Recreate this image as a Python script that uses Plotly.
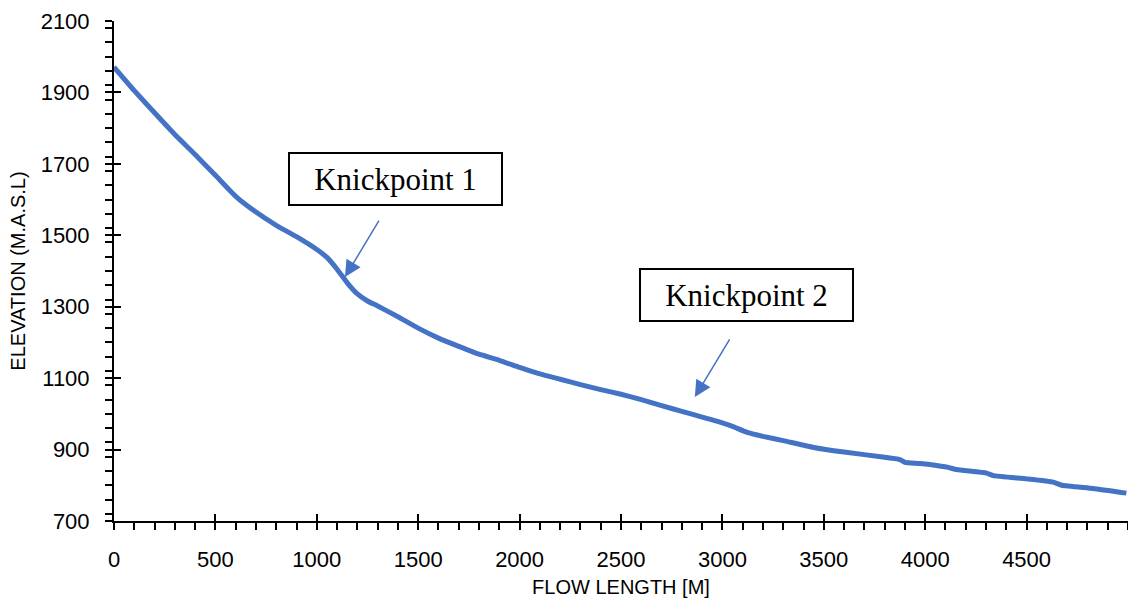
import plotly.graph_objects as go

# Longitudinal river profile: flow length (m) vs elevation (m a.s.l.)
flow_length = [0, 100, 200, 300, 400, 500, 600, 700, 800, 900, 1000, 1050,
               1100, 1150, 1200, 1250, 1300, 1400, 1500, 1600, 1700, 1800,
               1900, 2000, 2100, 2200, 2300, 2400, 2500, 2600, 2700, 2800,
               2900, 2988, 3050, 3119, 3200, 3300, 3450, 3600, 3780, 3875,
               3900, 3974, 4105, 4155, 4303, 4336, 4500, 4631, 4673, 4828,
               4992]
elevation = [1971, 1905, 1843, 1782, 1726, 1668, 1609, 1565, 1528, 1496, 1460,
             1438, 1405, 1367, 1336, 1316, 1302, 1272, 1240, 1212, 1189, 1167,
             1150, 1130, 1112, 1097, 1082, 1068, 1055, 1040, 1023, 1007,
             991, 977, 965, 949, 937, 925, 906, 893, 880, 872,
             864, 861, 851, 844, 834, 827, 818, 809, 800, 791,
             778]

x_ticks = [0, 500, 1000, 1500, 2000, 2500, 3000, 3500, 4000, 4500]
y_ticks = [700, 900, 1100, 1300, 1500, 1700, 1900, 2100]

knick_labels = ["Knickpoint 1", "Knickpoint 2"]
knick_box_x = [1389, 3118]
knick_box_y = [1657, 1333]
arrow_tip_x = [1139, 2864]
arrow_tip_y = [1383, 1047]
arrow_tail_x = [1311, 3040]
arrow_tail_y = [1545, 1213]

BLUE = "#4472C4"
X_RANGE = [0, 5000]
Y_RANGE = [700, 2100]

fig = go.Figure()
fig.add_trace(go.Scatter(x=flow_length, y=elevation, mode="lines",
                         line=dict(color=BLUE, width=5, shape="spline",
                                   smoothing=0.4),
                         showlegend=False, hoverinfo="skip"))

tick_font = dict(family="Liberation Sans, Arial, sans-serif", size=22, color="black")
title_font = dict(family="Liberation Sans, Arial, sans-serif", size=20, color="black")

fig.update_layout(
    width=1128, height=599,
    margin=dict(l=114, r=0, t=21, b=78),
    paper_bgcolor="white", plot_bgcolor="white",
    xaxis=dict(range=X_RANGE, tickvals=x_ticks, ticks="outside", ticklen=7,
               tickwidth=2, tickcolor="black", showline=True, linecolor="black",
               linewidth=2, showgrid=False, zeroline=False, tickfont=tick_font,
               ticklabelstandoff=11,
               minor=dict(dtick=100, ticks="outside", ticklen=7, tickwidth=2,
                          tickcolor="black", showgrid=False),
               title=dict(text="FLOW LENGTH [M]", font=title_font, standoff=9)),
    yaxis=dict(range=Y_RANGE, tickvals=y_ticks, ticks="outside", ticklen=7,
               tickwidth=2, tickcolor="black", showline=True, linecolor="black",
               linewidth=2, showgrid=False, zeroline=False, tickfont=tick_font,
               ticklabelstandoff=11,
               minor=dict(dtick=40, ticks="outside", ticklen=7, tickwidth=2,
                          tickcolor="black", showgrid=False),
               title=dict(text="ELEVATION (M.A.S.L)", font=title_font, standoff=10)),
    # inner halves of the major ticks, so they cross the axis lines
    xaxis2=dict(range=X_RANGE, tickvals=x_ticks, ticks="inside", ticklen=7,
                tickwidth=2, tickcolor="black", showticklabels=False,
                showgrid=False, zeroline=False, overlaying="x", anchor="y",
                side="bottom"),
    yaxis2=dict(range=Y_RANGE, tickvals=y_ticks, ticks="inside", ticklen=7,
                tickwidth=2, tickcolor="black", showticklabels=False,
                showgrid=False, zeroline=False, overlaying="y", anchor="x",
                side="left"),
)

# invisible trace to activate the overlay axes
fig.add_trace(go.Scatter(x=[None], y=[None], xaxis="x2", yaxis="y2",
                         showlegend=False, hoverinfo="skip"))

for label, bx, by in zip(knick_labels, knick_box_x, knick_box_y):
    fig.add_annotation(x=bx, y=by, xref="x", yref="y", text=label,
                       showarrow=False, width=211, height=50, align="center",
                       valign="middle", bordercolor="black", borderwidth=2,
                       borderpad=0, bgcolor="white",
                       font=dict(family="Liberation Serif, Times New Roman, serif",
                                 size=31, color="black"))

for tx, ty, ax, ay in zip(arrow_tip_x, arrow_tip_y, arrow_tail_x, arrow_tail_y):
    fig.add_annotation(x=tx, y=ty, xref="x", yref="y", ax=ax, ay=ay,
                       axref="x", ayref="y", text="", showarrow=True,
                       arrowhead=2, arrowsize=2.2, arrowwidth=1.5,
                       arrowcolor=BLUE)

fig.write_html("out.html")
